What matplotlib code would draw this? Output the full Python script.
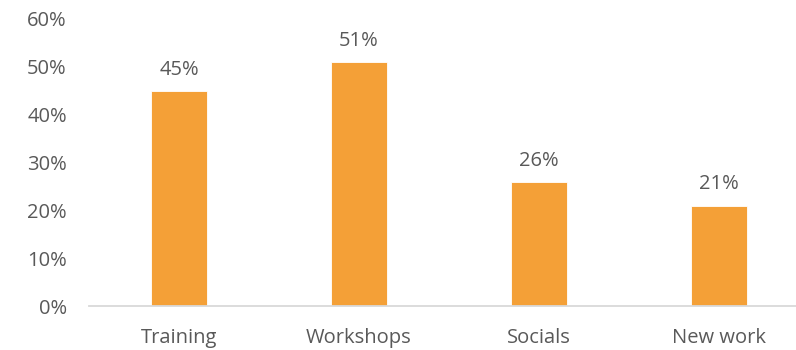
import matplotlib.pyplot as plt
from matplotlib.ticker import PercentFormatter

categories = ["Training", "Workshops", "Socials", "New work"]
shares = [45, 51, 26, 21]
y_ticks = [0, 10, 20, 30, 40, 50, 60]

BAR = "#F4A037"
TEXT = "#595959"
AXIS = "#D9D9D9"

plt.rcParams["font.family"] = ["Open Sans", "DejaVu Sans"]

fig = plt.figure(figsize=(7.96, 3.5), dpi=100, facecolor="white")
# plot area runs a little past the right edge, as in the exported chart
ax = fig.add_axes([89 / 796, 44 / 350, 707 / 796, 287 / 350])

x = range(len(categories))
bars = ax.bar(x, shares, width=0.31, color=BAR, edgecolor="white", linewidth=0.6)

for b, v in zip(bars, shares):
    ax.annotate(f"{v}%", (b.get_x() + b.get_width() / 2, v),
                xytext=(0, 8), textcoords="offset points",
                ha="center", va="bottom", fontsize=14.5, color=TEXT)

ax.set_xlim(-0.5, 3.5 - 13 / 180)
ax.set_ylim(0, 60)
ax.set_yticks(y_ticks)
ax.yaxis.set_major_formatter(PercentFormatter(decimals=0))
ax.set_xticks(list(x))
ax.set_xticklabels(categories)

for side in ("top", "right", "left"):
    ax.spines[side].set_visible(False)
ax.spines["bottom"].set_color(AXIS)
ax.spines["bottom"].set_linewidth(1.3)

ax.tick_params(axis="both", length=0, labelsize=14.5, labelcolor=TEXT)
ax.tick_params(axis="y", pad=16)
ax.tick_params(axis="x", pad=16)

fig.savefig("out.png", dpi=100, facecolor="white")
